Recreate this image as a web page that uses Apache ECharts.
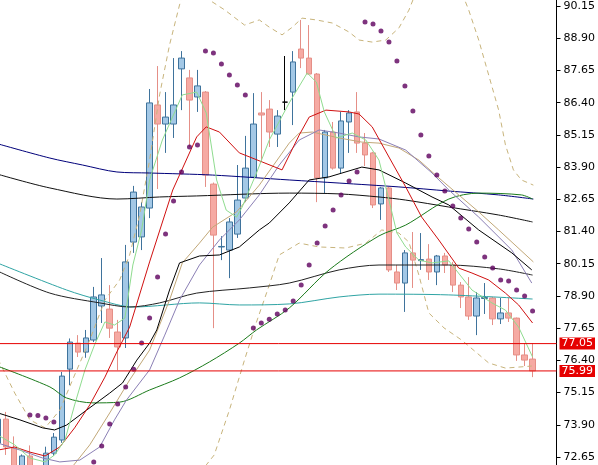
<!DOCTYPE html>
<html><head><meta charset="utf-8">
<script src="https://cdn.jsdelivr.net/npm/echarts@6/dist/echarts.min.js"></script>
<style>html,body{margin:0;padding:0;background:#fff}#c{width:598px;height:465px}</style>
</head><body><div id="c"></div>
<script>
// ---- candles (bar index 0..67) ----
const opens = [73.19,74.12,73.00,72.20,72.69,72.30,72.20,72.80,73.31,76.06,
77.07,76.72,77.19,78.51,78.39,77.50,77.27,80.99,81.19,82.31,
86.31,85.57,85.57,87.71,87.36,86.62,86.81,83.24,80.80,80.68,
81.30,82.70,83.51,86.00,86.15,85.18,86.42,86.81,88.48,88.13,
87.51,83.48,85.26,83.86,85.65,86.04,84.83,84.45,82.47,83.09,
79.83,79.40,80.57,80.27,80.33,79.83,80.45,80.10,79.32,78.86,
78.12,78.80,78.82,78.01,78.24,78.04,76.61,76.45];
const closes = [74.12,73.04,72.30,72.69,72.30,72.05,72.80,73.42,75.79,77.11,
76.72,77.27,78.86,78.94,77.65,76.92,80.22,82.93,82.35,86.39,
85.57,85.84,86.31,88.13,86.50,87.05,83.59,81.26,80.82,81.77,
82.62,83.86,85.57,85.92,85.26,85.88,86.42,87.98,88.13,87.51,
83.48,85.26,83.86,85.69,86.00,84.83,84.37,82.43,83.09,79.91,
79.40,80.57,80.29,80.31,79.83,80.45,80.10,79.32,78.86,78.12,
78.82,78.84,78.01,78.24,78.04,76.61,76.41,75.99];
const lows = [72.90,72.73,72.10,72.00,72.00,71.80,72.00,72.70,73.20,75.44,
76.53,76.50,77.11,77.85,77.27,76.02,76.88,80.57,80.68,81.92,
83.05,84.45,85.03,86.11,84.68,86.04,83.13,77.65,80.29,79.59,
81.15,82.54,83.48,84.10,84.68,84.68,86.11,85.53,87.74,87.48,
82.54,82.89,83.80,83.67,84.45,84.45,83.94,82.31,81.85,79.83,
79.13,78.28,79.21,79.91,79.52,79.32,79.79,79.05,78.43,77.97,
77.38,78.20,77.77,77.81,77.89,76.38,76.18,75.75];
const highs = [74.30,74.40,73.45,72.75,73.10,72.33,73.05,73.58,75.95,77.25,
77.38,77.58,79.25,80.37,79.32,77.97,80.88,83.17,82.54,86.93,
87.82,86.81,88.13,88.40,87.67,87.67,86.85,83.30,81.22,81.92,
83.98,85.11,86.77,86.81,86.50,86.11,88.21,88.40,89.61,89.41,
87.55,85.34,85.65,86.04,86.11,86.81,85.22,84.49,83.13,83.13,
80.10,80.68,81.38,81.34,80.91,80.49,80.57,80.22,79.44,79.63,
79.05,79.40,78.86,78.82,78.82,78.06,77.07,77.07];

// ---- parabolic SAR (per bar, null = not visible) ----
const sar = [null,null,null,null,74.28,74.26,74.16,74.01,null,null,
null,null,72.46,73.08,73.93,74.71,75.37,76.06,77.07,78.04,
79.63,81.30,82.58,83.71,84.68,84.76,88.40,88.33,87.90,87.47,
87.08,86.70,77.66,77.85,78.00,78.20,78.35,78.70,79.32,80.10,
80.95,81.61,82.23,82.82,83.36,83.71,89.53,89.45,89.18,88.75,
88.02,87.05,86.08,85.14,84.33,83.59,82.97,82.39,81.92,81.50,
80.99,80.41,79.98,79.52,79.48,79.13,78.90,78.32];

// ---- indicator lines: [bar index, price] ----
const maNavy = [[0,84.80],[6.5,84.25],[10.6,83.98],[14.9,83.71],[19,83.67],[26.9,83.59],[36.5,83.40],[42.75,83.28],[50.25,83.13],[56.5,82.97],[62.75,82.82],[67.1,82.66]];
const maBlackLong = [[0,83.62],[6.5,83.09],[14.9,82.66],[20.25,82.74],[24.9,82.78],[36.5,82.89],[42.75,82.86],[47.75,82.74],[51.1,82.62],[56.5,82.35],[62.75,82.04],[67,81.77]];
const maTeal = [[0,80.17],[8.6,79.13],[12.75,78.74],[16.9,78.47],[25.25,78.63],[30.25,78.55],[36.5,78.59],[42.75,78.86],[47.75,78.97],[56.5,78.94],[67,78.78]];
const maBlackFlat = [[0,79.86],[6.5,79.01],[12.75,78.63],[16.5,78.47],[20.25,78.63],[24.9,79.01],[31.5,79.21],[36.5,79.40],[42.75,79.91],[47.75,80.10],[56.5,80.10],[62.75,79.95],[67,79.71]];
const maGreen = [[0,76.17],[6.5,75.37],[8.6,74.94],[11.9,74.75],[15.25,74.78],[19,75.25],[22.75,75.72],[26.5,76.34],[30.25,77.07],[32.4,77.58],[36.5,78.43],[41.5,79.91],[47.75,81.23],[51.1,81.65],[56.5,82.66],[60.25,82.89],[65.6,82.82],[67,82.66]];
const maRed = [[0,72.92],[2.1,73.04],[4,72.84],[5.9,72.69],[7.75,73.04],[9.6,73.78],[11.5,74.67],[13.4,75.75],[14.9,76.73],[16.5,77.69],[19,80.22],[21.9,83.01],[24.9,85.07],[26.1,85.46],[27.75,85.26],[30.25,84.45],[33.1,84.10],[35.6,83.79],[37.75,85.14],[39,85.84],[41.1,86.11],[44,86.04],[45.25,85.96],[46.9,85.46],[49,84.29],[51.1,83.13],[53.1,81.96],[55.25,81.07],[57.75,79.98],[59.4,79.79],[61.5,79.52],[63.6,79.01],[65.25,78.55],[67,77.85]];
const maLight = [[0,73.50],[2.1,73.12],[4,72.61],[5.9,72.46],[7.1,72.73],[8.4,73.31],[9.6,74.67],[10.9,76.03],[12.1,77.00],[13.4,77.89],[14.6,77.77],[15.9,78.04],[16.9,80.10],[18,81.46],[19,83.40],[20.6,84.95],[23.1,86.70],[24.9,86.81],[26.1,86.00],[27.4,83.40],[28.6,82.23],[29.9,81.96],[30.6,82.35],[32.4,83.67],[34,84.95],[36.5,86.39],[38.75,87.55],[39.9,87.20],[40.9,86.04],[42.4,85.03],[44.4,85.22],[46.1,84.95],[47.75,84.17],[49,82.62],[50,81.34],[51.1,80.80],[52.75,80.29],[54.4,80.18],[56.5,80.26],[59.4,79.13],[61.9,78.63],[63.6,78.35],[65.25,77.69],[67,76.53]];
const maPurple = [[0,73.19],[2.75,72.92],[5.6,72.61],[7.75,72.46],[10.25,72.53],[12.75,73.04],[14.6,74.09],[16.1,74.86],[19,76.03],[20.9,77.38],[22.75,78.74],[25.25,80.10],[27.75,81.07],[30.25,81.85],[32.75,82.82],[35.25,83.98],[37.75,84.95],[40.25,85.34],[42.75,85.22],[45.25,85.07],[47.75,84.99],[51.1,84.56],[54.4,83.67],[56.5,83.01],[60.25,81.96],[64.4,80.68],[66.9,79.40]];
const maTan = [[9,72.15],[11.5,73.12],[14,74.36],[16.5,75.64],[19,76.80],[21.5,78.74],[23.1,80.18],[25.25,80.95],[26.9,81.57],[29.9,82.16],[32.75,83.20],[36.5,84.83],[37.75,85.22],[39.4,85.26],[42.75,85.03],[45.6,84.87],[47.75,84.83],[50.25,84.64],[52.75,84.17],[55.25,83.48],[57.75,82.82],[60.25,82.16],[62.75,81.46],[67.1,80.22]];
const ma20Black = [[0,74.36],[2.75,74.09],[5.6,73.78],[7.1,73.70],[8.6,73.89],[11.1,74.47],[14,75.13],[15.6,75.52],[17.4,76.41],[19,77.07],[19.9,77.58],[21.5,79.13],[22.75,80.18],[25.25,80.45],[27.75,80.49],[30.25,80.80],[32.75,81.46],[34,81.73],[36.5,82.51],[39,83.40],[41.5,83.52],[45.6,83.90],[47.75,83.79],[51.1,83.28],[54.4,82.74],[56.5,82.43],[60.25,81.46],[64.4,80.57],[66.9,79.91]];
const bandUpper = [[0,76.45],[2.1,75.13],[4,74.09],[5.9,73.78],[7.75,74.47],[9.6,75.83],[11.5,77.19],[13.4,78.74],[15.25,79.52],[16.5,80.49],[17.75,82.04],[19,84.17],[20.25,86.70],[21.5,88.64],[22.75,90.19],[23.75,91.16],[25.25,90.77],[26.5,90.38],[28.4,90.00],[30.9,89.41],[32.75,89.61],[34,89.33],[35.6,89.03],[36.9,89.33],[38.1,89.68],[39.9,89.61],[41.9,89.49],[44,89.14],[45.25,88.83],[46.9,88.75],[48.6,88.83],[50.25,89.30],[51.5,89.99],[52.5,90.77],[58,90.77],[59,89.99],[60.25,88.83],[61.5,87.47],[62.75,86.11],[63.6,84.76],[64.6,83.79],[65.6,83.40],[67.1,83.20]];
const bandLower = [[24.6,71.76],[27.1,72.73],[29,74.47],[30.9,76.42],[32.4,77.89],[34,79.32],[35.25,80.49],[37.75,80.95],[40.25,80.80],[43.6,80.76],[46.1,80.95],[48.1,81.46],[50.25,81.34],[51.5,80.99],[52.75,79.71],[54,78.24],[55.9,77.66],[58.1,77.19],[61.5,76.30],[63.6,76.10],[66.9,76.18]];

// ---- axis ----
const xMin = 0.25, xMax = 70;
const yTicks = [90.15,88.90,87.65,86.40,85.15,83.90,82.65,81.40,80.15,78.90,77.65,76.40,75.15,73.90,72.65];
const refLines = [77.05, 75.99];

const candleData = opens.map((o, i) => {
  const d = [i, o, closes[i], lows[i], highs[i]];
  if (o === closes[i]) return {value: d, itemStyle: {color:'#000', color0:'#000', borderColor:'#000', borderColor0:'#000'}};
  return d;
});
const sarData = sar.map((v, i) => v == null ? null : [i, v]).filter(p => p);

function line(data, color, extra) {
  return Object.assign({type:'line', data, showSymbol:false, symbol:'none', silent:true,
    lineStyle:{color, width:1}, itemStyle:{color}, clip:true, z:3}, extra || {});
}

const refSeries = refLines.map(v => ({
  type:'line', data:[[xMin, v], [xMax, v]], showSymbol:false, symbol:'none', silent:true, clip:false, z:6,
  lineStyle:{color:'#e60000', width:1}, itemStyle:{color:'#e60000'},
  endLabel:{show:true, distance:3, formatter:() => v.toFixed(2), backgroundColor:'#e60000', color:'#fff',
    fontFamily:'DejaVu Sans', fontSize:11, padding:[1,2,0,2]}
}));

const chart = echarts.init(document.getElementById('c'), null, {renderer:'canvas'});
chart.setOption({
  animation:false,
  backgroundColor:'#fff',
  grid:{left:0, right:40, top:0, bottom:0},
  xAxis:{type:'value', min:xMin, max:xMax, show:false},
  yAxis:{type:'value', position:'right', min:72.34, max:90.383,
    axisLine:{show:true, lineStyle:{color:'#000', width:1}},
    axisTick:{show:true, length:4, customValues:yTicks, lineStyle:{color:'#000'}},
    axisLabel:{customValues:yTicks, formatter:v => Number(v).toFixed(2), color:'#000', fontFamily:'DejaVu Sans', fontSize:11, margin:7},
    splitLine:{show:false}},
  series:[
    {type:'candlestick', data:candleData, encode:{x:0, y:[1,2,3,4]}, barWidth:6, clip:true, z:2,
      itemStyle:{color:'#a3c8e6', color0:'#f6aaa3', borderColor:'#3f739c', borderColor0:'#e58f87', borderWidth:1}},
    line(bandUpper, '#c8b47c', {lineStyle:{color:'#c8b47c', width:1, type:[5,4]}}),
    line(bandLower, '#c8b47c', {lineStyle:{color:'#c8b47c', width:1, type:[5,4]}}),
    line(maNavy, '#00007a', {smooth:0.3}),
    line(maBlackLong, '#111', {smooth:0.3}),
    line(maTeal, '#2fa4a4', {smooth:0.3}),
    line(maBlackFlat, '#222', {smooth:0.3}),
    line(maGreen, '#1b7b1b', {smooth:0.3}),
    line(maTan, '#c2a878'),
    line(maPurple, '#8b7fb5'),
    line(ma20Black, '#000'),
    line(maRed, '#d01010'),
    line(maLight, '#8fdc8f'),
    {type:'scatter', data:sarData, symbol:'circle', symbolSize:5, itemStyle:{color:'#5e005e'}, silent:true, z:5, clip:true}
  ].concat(refSeries)
});
</script>
</body></html>
